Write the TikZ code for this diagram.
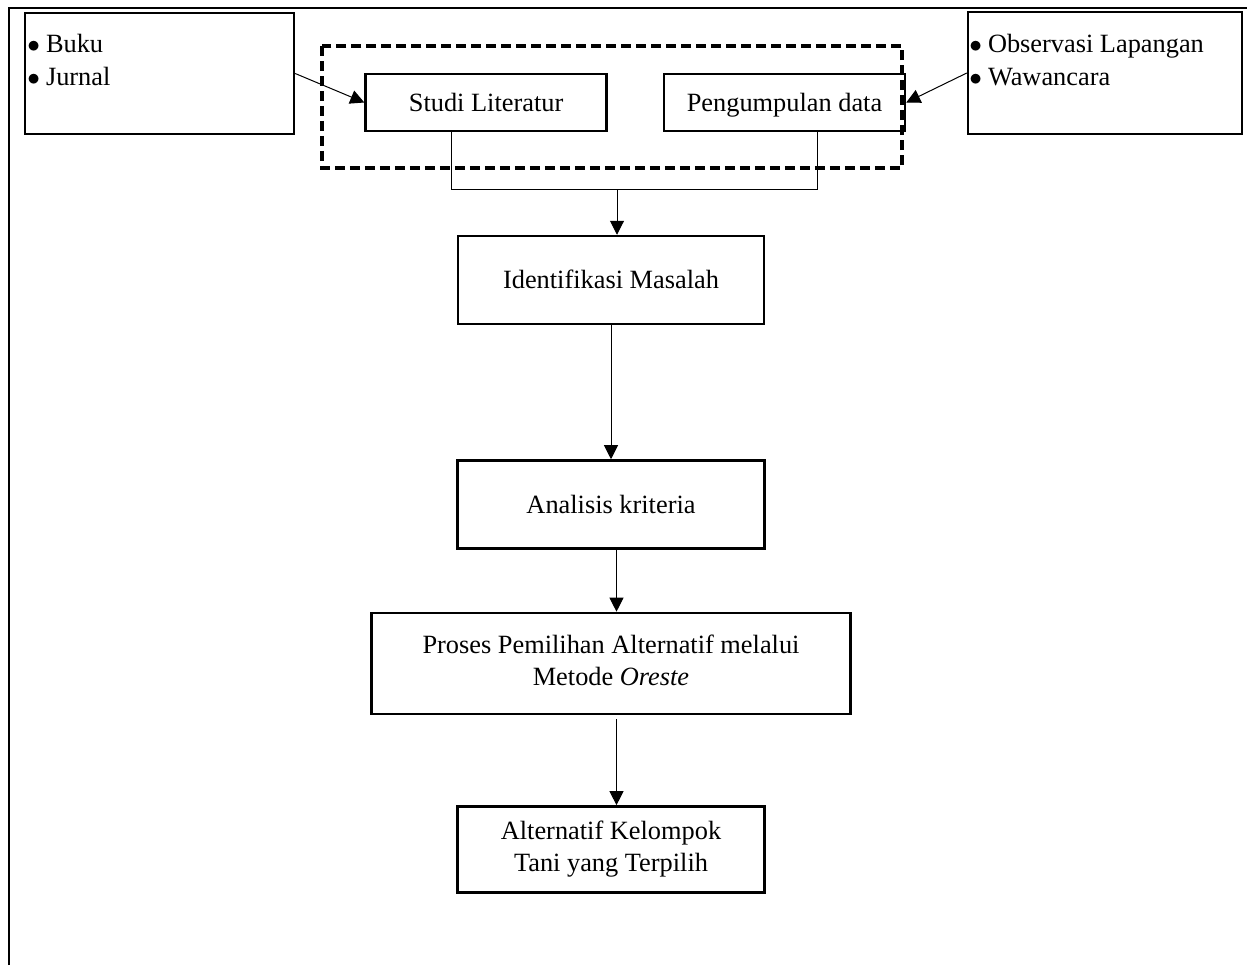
\documentclass[tikz,border=0pt]{standalone}
\usepackage{fontspec}
\setmainfont{Liberation Serif}
\usetikzlibrary{positioning, arrows.meta}

\newcommand{\boxstrut}{\rule[-0.24em]{0pt}{1.14em}}

\begin{document}
\begin{tikzpicture}[
  x=0.02cm, y=-0.02cm,
  every node/.style={font=\fontsize{15pt}{18.5pt}\selectfont},
  boxnode/.style={draw, line width=0.05cm, inner sep=0pt, align=center,
    execute at begin node=\boxstrut, execute at end node=\boxstrut},
  textnode/.style={inner sep=0pt, align=left, anchor=north west},
  arrowedge/.style={draw, line width=0.02cm, -{Triangle[length=0.28cm, width=0.28cm]}},
  lineedge/.style={draw, line width=0.02cm},
  dashedge/.style={draw, line width=0.07cm, dash pattern=on 0.2cm off 0.1cm}
]

\useasboundingbox (0,0) rectangle (1247,965);
\draw[line width=0.04cm] (9,965) -- (9,8) -- (1247,8);

\node[boxnode, minimum width=5.38cm, minimum height=2.42cm] (buku) at (159.5,73.5) {};
\node[textnode] (bukutxt) at (27,34) {$\bullet$\hspace{0.12cm}Buku\\$\bullet$\hspace{0.12cm}Jurnal};

\node[boxnode, minimum width=5.48cm, minimum height=2.44cm] (obs) at (1105,73) {};
\node[textnode] (obstxt) at (969,34) {$\bullet$\hspace{0.12cm}Observasi Lapangan\\$\bullet$\hspace{0.12cm}Wawancara};

\draw[dashedge] (322,46) rectangle (902,168);

\node[boxnode, minimum width=4.82cm, minimum height=1.14cm] (peng) at (784.5,102.5) {Pengumpulan data};
\node[boxnode, minimum width=4.82cm, minimum height=1.14cm, left=1.1cm of peng] (studi) {Studi Literatur};

\node[boxnode, minimum width=6.12cm, minimum height=1.76cm] (idm) at (611,280) {Identifikasi Masalah};
\node[boxnode, minimum width=6.14cm, minimum height=1.76cm, below=2.68cm of idm] (ank) {Analisis kriteria};
\node[boxnode, minimum width=9.58cm, minimum height=2.02cm, below=1.24cm of ank] (pro) {Proses Pemilihan Alternatif melalui\\Metode \textit{Oreste}};
\node[boxnode, minimum width=6.14cm, minimum height=1.72cm, below=1.8cm of pro] (alt) {Alternatif Kelompok\\Tani yang Terpilih};

\draw[arrowedge] (buku.east) -- (studi.west);
\draw[arrowedge] (obs.west) -- (peng.east);

\coordinate (jn) at (617,189);
\draw[lineedge] ([xshift=-0.69cm]studi.south) |- (jn) -| ([xshift=0.65cm]peng.south);
\draw[arrowedge] (jn) -- (jn |- idm.north);
\draw[arrowedge] (idm.south) -- (idm.south |- ank.north);
\draw[arrowedge] ([xshift=0.11cm]ank.south) -- ([xshift=0.11cm]ank.south |- pro.north);
\draw[arrowedge] ([xshift=0.11cm,yshift=-0.08cm]pro.south) -- ([xshift=0.11cm]pro.south |- alt.north);

\end{tikzpicture}
\end{document}
